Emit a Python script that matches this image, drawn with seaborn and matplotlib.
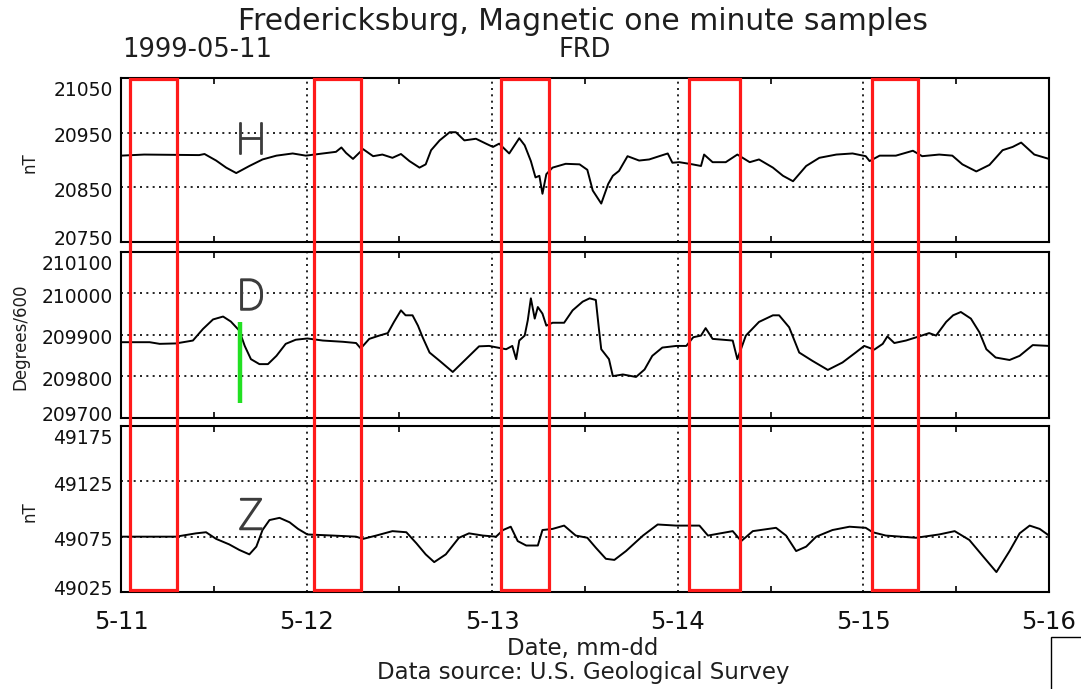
import matplotlib
matplotlib.use("Agg")
import matplotlib.pyplot as plt
import matplotlib.transforms as mtransforms
import matplotlib.patheffects as pe
from matplotlib.patches import Rectangle
import pandas as pd
import seaborn as sns

# Fredericksburg (FRD) one-minute magnetometer record, 1999-05-11 .. 1999-05-16.
# Times are hours after 1999-05-11 00:00 UT.
h_hours = [0.0, 3.0, 10.1, 10.8, 12.3, 13.6, 14.9, 16.6, 18.3, 20.1, 22.2, 23.9,
           26.1, 27.8, 28.5, 29.1, 30.0, 31.3, 32.6, 33.8, 35.1, 36.2, 37.3, 38.6,
           39.4, 40.1, 41.2, 42.5, 43.3, 44.4, 45.9, 47.2, 48.1, 48.9, 50.2, 51.5,
           52.2, 53.0, 53.6, 54.1, 54.5, 55.0, 55.8, 57.5, 59.3, 60.3, 61.0, 62.1,
           63.0, 63.6, 64.4, 65.5, 67.0, 68.3, 69.6, 70.7, 71.3, 72.2, 73.9, 75.0,
           75.4, 76.5, 78.2, 79.7, 81.3, 82.5, 84.3, 85.6, 86.9, 88.6, 90.3, 92.5,
           94.6, 96.3, 96.8, 98.1, 100.2, 102.4, 103.6, 105.8, 107.5, 108.8, 110.6,
           112.3, 114.0, 115.3, 116.4, 118.1, 120.0]
h_values = [20908, 20910, 20909, 20911, 20899, 20886, 20876, 20889, 20901, 20908,
            20912, 20908, 20912, 20915, 20923, 20913, 20902, 20920, 20907, 20910,
            20904, 20911, 20898, 20886, 20892, 20918, 20936, 20951, 20951, 20936,
            20939, 20930, 20924, 20930, 20912, 20940, 20927, 20898, 20868, 20871,
            20838, 20874, 20886, 20893, 20892, 20882, 20844, 20820, 20856, 20871,
            20880, 20907, 20899, 20901, 20907, 20912, 20895, 20896, 20892, 20889,
            20910, 20896, 20896, 20910, 20896, 20901, 20886, 20871, 20861, 20889,
            20904, 20910, 20912, 20907, 20898, 20908, 20908, 20917, 20907, 20910,
            20908, 20892, 20879, 20891, 20918, 20924, 20932, 20910, 20902]

d_hours = [0.0, 3.7, 5.0, 7.1, 9.3, 10.6, 11.9, 13.2, 14.2, 15.3, 16.0, 16.8,
           17.9, 19.0, 20.1, 21.3, 22.6, 24.1, 26.1, 28.7, 30.4, 31.0, 32.1, 33.4,
           34.5, 35.3, 36.2, 36.8, 37.7, 38.4, 39.0, 39.9, 41.2, 42.9, 44.6, 46.3,
           47.6, 48.7, 49.8, 50.6, 51.1, 51.5, 52.2, 52.6, 53.0, 53.5, 53.9, 54.5,
           55.0, 55.8, 57.3, 58.4, 59.7, 60.6, 61.4, 61.8, 62.1, 63.1, 63.6, 64.9,
           66.6, 67.7, 68.7, 70.0, 71.8, 73.1, 74.0, 75.0, 75.6, 76.5, 79.1, 79.7,
           80.8, 82.5, 84.3, 85.1, 86.4, 87.7, 89.4, 91.4, 93.3, 95.0, 96.1, 97.4,
           98.5, 99.1, 100.0, 101.5, 103.2, 104.5, 105.4, 106.7, 107.6, 108.6,
           109.9, 111.0, 111.9, 113.1, 114.9, 116.2, 117.9, 120.0]
d_values = [209882, 209882, 209878, 209879, 209886, 209914, 209937, 209944, 209932,
            209910, 209873, 209841, 209829, 209829, 209849, 209878, 209888, 209891,
            209886, 209883, 209880, 209867, 209890, 209898, 209904, 209931, 209959,
            209947, 209947, 209922, 209894, 209857, 209837, 209810, 209841, 209872,
            209873, 209869, 209865, 209873, 209841, 209886, 209898, 209935, 209988,
            209939, 209967, 209951, 209922, 209929, 209929, 209959, 209980, 209988,
            209984, 209914, 209865, 209841, 209800, 209804, 209798, 209816, 209849,
            209869, 209873, 209873, 209894, 209898, 209916, 209890, 209886, 209841,
            209898, 209931, 209947, 209947, 209918, 209857, 209837, 209815, 209833,
            209857, 209873, 209864, 209878, 209896, 209880, 209886, 209896, 209904,
            209898, 209931, 209947, 209955, 209939, 209906, 209865, 209845, 209839,
            209849, 209875, 209873]

z_hours = [0.0, 7.1, 9.7, 11.0, 12.3, 14.0, 15.3, 16.6, 17.5, 18.3, 19.2, 20.5,
           21.8, 22.9, 24.1, 27.4, 30.4, 31.3, 33.0, 35.1, 36.9, 38.2, 39.4, 40.5,
           42.0, 43.7, 45.0, 46.8, 48.5, 49.4, 50.4, 51.3, 52.4, 53.9, 54.5, 55.8,
           57.3, 58.8, 60.3, 61.4, 62.7, 63.8, 65.3, 67.5, 69.4, 71.8, 74.8, 75.9,
           79.1, 80.2, 81.7, 84.7, 86.0, 87.3, 88.6, 89.9, 92.0, 94.2, 96.3, 97.2,
           98.9, 102.8, 105.8, 107.8, 109.7, 111.5, 113.2, 114.9, 116.2, 117.5,
           118.8, 120.0]
z_values = [49075, 49075, 49078, 49079, 49073, 49068, 49063, 49059, 49066, 49081,
            49090, 49092, 49088, 49082, 49077, 49076, 49075, 49073, 49076, 49080,
            49079, 49069, 49059, 49052, 49059, 49074, 49078, 49076, 49075, 49081,
            49084, 49071, 49067, 49067, 49081, 49082, 49085, 49076, 49074, 49065,
            49055, 49054, 49062, 49076, 49086, 49085, 49085, 49076, 49080, 49071,
            49080, 49083, 49076, 49062, 49066, 49075, 49081, 49084, 49083, 49079,
            49076, 49074, 49077, 49080, 49072, 49057, 49043, 49062, 49078, 49085,
            49082, 49076]

# Axis scales
h_ticks = [20750, 20850, 20950, 21050]
d_ticks = [209700, 209800, 209900, 210000, 210100]
z_ticks = [49025, 49075, 49125, 49175]
day_hours = [0, 24, 48, 72, 96, 120]
day_labels = ["5-11", "5-12", "5-13", "5-14", "5-15", "5-16"]

# Highlighted intervals (hours) and the marker on the declination trace
box_starts = [1.2, 24.9, 49.2, 73.4, 97.1]
box_ends = [7.2, 31.0, 55.4, 80.0, 103.1]
marker_hour = 15.4
marker_range = [209735, 209932]

sns.set_theme(style="white")
plt.rcParams["font.family"] = ["DejaVu Sans"]

W, H = 1081, 689
fig = plt.figure(figsize=(W / 100, H / 100), dpi=100)
fig.patch.set_facecolor("white")


def fx(px):
    return px / W


def fy(py):
    return 1 - py / H


left, right = 121, 1049
panels = [
    dict(top=78.3, bottom=241.7, hours=h_hours, values=h_values, ticks=h_ticks,
         letter="H", letter_pos=(16.8, 20932)),
    dict(top=252.0, bottom=417.5, hours=d_hours, values=d_values, ticks=d_ticks,
         letter="D", letter_pos=(16.8, 209988)),
    dict(top=426.0, bottom=592.0, hours=z_hours, values=z_values, ticks=z_ticks,
         letter="Z", letter_pos=(16.8, 49092)),
]

letter_color = "#3c3c3c"
axes = []
dot = (0, (1.2, 2.6))
pt = 1 / 72
for i, p in enumerate(panels):
    ax = fig.add_axes([fx(left), fy(p["bottom"]), fx(right - left),
                       (p["bottom"] - p["top"]) / H])
    ax.set_facecolor("white")
    df = pd.DataFrame({"hours": p["hours"], "value": p["values"]})
    sns.lineplot(data=df, x="hours", y="value", ax=ax, color="black",
                 linewidth=1.4, estimator=None, sort=False)
    ax.set_xlim(0, 120)
    ax.set_ylim(p["ticks"][0], p["ticks"][-1])
    ax.set_xlabel("")
    ax.set_ylabel("")

    # dotted reference lines at inner value ticks and at day boundaries
    for t in p["ticks"][1:-1]:
        ax.axhline(t, color="black", linewidth=1.2, linestyle=dot, zorder=1)
    for d in day_hours[1:-1]:
        ax.axvline(d, color="black", linewidth=1.2, linestyle=dot, zorder=1)

    ax.set_yticks(p["ticks"])
    ax.set_yticklabels([str(t) for t in p["ticks"]])
    ax.tick_params(axis="y", length=0, pad=6, labelsize=13.5, colors="#111111")
    ylabels = ax.get_yticklabels()
    for j, lab in enumerate(ylabels):
        if j == len(ylabels) - 1:
            lab.set_va("top")
            dy = -2.0
        elif j == 0:
            lab.set_va("center")
            dy = 1.5
        else:
            lab.set_va("center")
            dy = -3.0
        lab.set_transform(lab.get_transform() +
                          mtransforms.ScaledTranslation(0, dy * pt, fig.dpi_scale_trans))

    ax.set_xticks(day_hours)
    ax.set_xticks([12, 36, 60, 84, 108], minor=True)
    ax.tick_params(axis="x", which="major", length=0, pad=13, labelsize=17.5,
                   colors="#111111")
    ax.tick_params(axis="x", which="minor", direction="in", length=4, width=1.2,
                   top=True, bottom=True, color="black")
    if i == len(panels) - 1:
        ax.set_xticklabels(day_labels)
    else:
        ax.set_xticklabels([])

    for s in ax.spines.values():
        s.set_visible(True)
        s.set_color("black")
        s.set_linewidth(1.5)

    ax.text(p["letter_pos"][0], p["letter_pos"][1], p["letter"],
            ha="center", va="center", fontsize=31,
            family=["Roboto", "DejaVu Sans"], fontweight="light", color=letter_color,
            zorder=3,
            path_effects=[pe.withStroke(linewidth=1.3, foreground=letter_color)])
    axes.append(ax)

# green marker on the declination panel
axes[1].plot([marker_hour, marker_hour], marker_range, color="#22e022",
             linewidth=3.2, solid_capstyle="butt", zorder=4)

# red interval boxes spanning all three panels
blend = mtransforms.blended_transform_factory(axes[2].transData, fig.transFigure)
box_top, box_bottom = fy(79), fy(590)
for s, e in zip(box_starts, box_ends):
    rect = Rectangle((s, box_bottom), e - s, box_top - box_bottom,
                     transform=blend, fill=False, edgecolor="#ff1a1a",
                     linewidth=2.3, clip_on=False, zorder=10)
    fig.add_artist(rect)

# titles and labels
txt = "#1e1e1e"
fig.text(fx(583), fy(22), "Fredericksburg, Magnetic one minute samples",
         ha="center", va="center", fontsize=21.5, color=txt)
fig.text(fx(122), fy(50), "1999-05-11", ha="left", va="center",
         fontsize=18.5, color=txt)
fig.text(fx(585), fy(50), "FRD", ha="center", va="center", fontsize=18.5, color=txt)
fig.text(fx(583), fy(649), "Date, mm-dd", ha="center", va="center",
         fontsize=16.5, color=txt)
fig.text(fx(583), fy(672), "Data source: U.S. Geological Survey",
         ha="center", va="center", fontsize=16.5, color=txt)
fig.text(fx(30), fy(163), "nT", rotation=90, ha="center", va="center",
         fontsize=12, color=txt)
fig.text(fx(20), fy(337), "Degrees/600", rotation=90, ha="center", va="center",
         fontsize=12, color=txt)
fig.text(fx(30), fy(512), "nT", rotation=90, ha="center", va="center",
         fontsize=12, color=txt)

# partial frame at the lower right edge
fig.add_artist(Rectangle((fx(1051), fy(700)), fx(60), fy(637) - fy(700),
                         transform=fig.transFigure, fill=False,
                         edgecolor="black", linewidth=1.0, clip_on=False))

fig.savefig("out.png", dpi=100, facecolor="white")
